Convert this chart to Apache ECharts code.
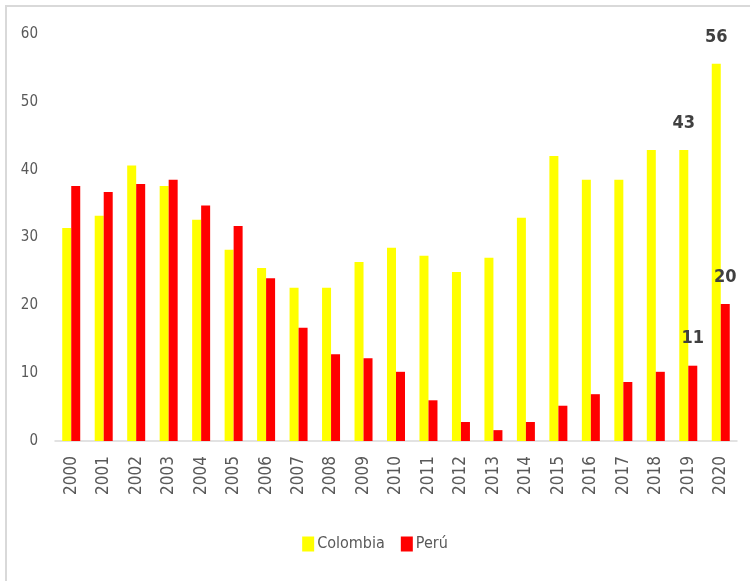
<!DOCTYPE html>
<html>
<head>
<meta charset="utf-8">
<script src="https://cdn.jsdelivr.net/npm/echarts@6/dist/echarts.min.js"></script>
<style>
  html, body { margin: 0; padding: 0; background: #fff; }
  #frame { position: absolute; left: 5px; top: 5px; width: 760px; height: 590px; border: 2px solid #d9d9d9; box-sizing: border-box; }
  #chart { position: absolute; left: 0; top: 0; width: 750px; height: 581px; }
</style>
</head>
<body>
<div id="frame"></div>
<div id="chart"></div>
<script>
// data
var years = ['2000','2001','2002','2003','2004','2005','2006','2007','2008','2009','2010',
             '2011','2012','2013','2014','2015','2016','2017','2018','2019','2020']
var colombia = [31.4, 33.2, 40.6, 37.6, 32.6, 28.2, 25.5, 22.6, 22.6, 26.4, 28.5,
                27.3, 24.9, 27.0, 32.9, 42.0, 38.5, 38.5, 42.9, 42.9, 55.6]
var peru = [37.6, 36.7, 37.9, 38.5, 34.7, 31.7, 24.0, 16.7, 12.8, 12.2, 10.2,
            6.0, 2.8, 1.6, 2.8, 5.2, 6.9, 8.7, 10.2, 11.1, 20.2]
// only the last two years carry a value label
var labelled = ['2019', '2020']

var font = '"Liberation Sans Narrow", "DejaVu Sans Condensed", "Liberation Sans", sans-serif'

function lastLabels(values) {
    return values.map(function (v, i) {
        if (labelled.indexOf(years[i]) < 0) return v
        return {
            value: v,
            label: {
                show: true,
                position: 'top',
                distance: 18,
                formatter: function (p) { return Math.round(p.value) },
                color: '#404040',
                fontWeight: 'bold',
                fontSize: 18,
                fontFamily: font
            }
        }
    })
}

var chart = echarts.init(document.getElementById('chart'))
chart.setOption({
    animation: false,
    textStyle: { fontFamily: font },
    grid: { left: 55, right: 13, top: 34, bottom: 140, containLabel: false },
    legend: {
        bottom: 24,
        left: 'center',
        itemWidth: 12,
        itemHeight: 15,
        itemGap: 16,
        itemStyle: { borderWidth: 0 },
        icon: 'rect',
        textStyle: { color: '#595959', fontSize: 16, fontFamily: font, padding: [0, 0, 0, -2] },
        data: ['Colombia', 'Perú']
    },
    xAxis: {
        type: 'category',
        data: years,
        axisLine: { lineStyle: { color: '#d9d9d9', width: 1.5 } },
        axisTick: { show: false },
        axisLabel: { rotate: 90, color: '#595959', fontSize: 17, margin: 15, fontFamily: font }
    },
    yAxis: {
        type: 'value',
        min: 0,
        max: 60,
        interval: 10,
        splitLine: { show: false },
        axisLine: { show: false },
        axisTick: { show: false },
        axisLabel: { color: '#595959', fontSize: 15, margin: 17, fontFamily: font }
    },
    color: ['#ffff00', '#ff0000'],
    series: [
        {
            name: 'Colombia',
            type: 'bar',
            data: lastLabels(colombia),
            barWidth: 9,
            barGap: '0%'
        },
        {
            name: 'Perú',
            type: 'bar',
            data: lastLabels(peru),
            barWidth: 9,
            barGap: '0%'
        }
    ]
})
</script>
</body>
</html>
